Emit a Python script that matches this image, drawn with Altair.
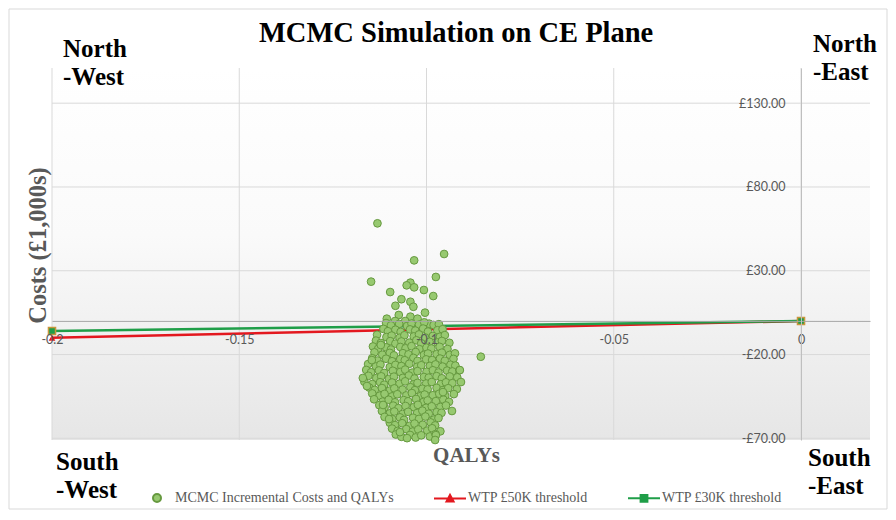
import altair as alt
import pandas as pd

# ---------------- data ----------------
series_names = ["MCMC Incremental Costs and QALYs", "WTP £50K threshold", "WTP £30K threshold"]

# scattered simulations above the main cloud
qaly_upper = [-0.1131, -0.0953, -0.1033, -0.1148, -0.0975, -0.1043, -0.1053, -0.1033, -0.1097, -0.1007,
              -0.0982, -0.1067, -0.1043, -0.1035, -0.1083, -0.1004, -0.1106, -0.1074, -0.1043, -0.1024,
              -0.1057, -0.1084, -0.0993, -0.1013]
cost_upper = [58.3, 40.0, 36.2, 23.5, 26.3, 22.9, 21.3, 20.1, 17.3, 18.5,
              14.9, 13.0, 11.5, 8.5, 9.1, 5.0, 1.4, 3.6, 2.6, 1.4,
              0.0, 0.0, -1.6, -1.8]

# main cloud
qaly_body = [
    -0.1108, -0.1095, -0.1073, -0.1052, -0.1040, -0.1020, -0.1006, -0.0981, -0.0967,
    -0.1115, -0.1103, -0.1083, -0.1069, -0.1044, -0.1030, -0.1009, -0.0996, -0.0971, -0.0957,
    -0.1132, -0.1107, -0.1093, -0.1072, -0.1059, -0.1034, -0.1020, -0.1004, -0.0983, -0.0964, -0.0951,
    -0.1135, -0.1122, -0.1097, -0.1083, -0.1067, -0.1046, -0.1027, -0.1014, -0.0992, -0.0971, -0.0959, -0.0939,
    -0.1143, -0.1129, -0.1108, -0.1095, -0.1070, -0.1056, -0.1040, -0.1019, -0.1000, -0.0987, -0.0965, -0.0944,
    -0.1139, -0.1118, -0.1098, -0.1087, -0.1063, -0.1048, -0.1029, -0.1007, -0.0996, -0.0973, -0.0959, -0.0938, -0.0924,
    -0.1145, -0.1131, -0.1108, -0.1092, -0.1070, -0.1058, -0.1035, -0.1024, -0.1001, -0.0985, -0.0964, -0.0951, -0.0928,
    -0.1156, -0.1135, -0.1123, -0.1098, -0.1083, -0.1067, -0.1046, -0.1025, -0.1014, -0.0991, -0.0976, -0.0957, -0.0936, -0.0923,
    -0.1161, -0.1148, -0.1127, -0.1113, -0.1090, -0.1070, -0.1057, -0.1038, -0.1024, -0.1000, -0.0983, -0.0968, -0.0945, -0.0931, -0.0912,
    -0.1155, -0.1134, -0.1121, -0.1100, -0.1087, -0.1063, -0.1047, -0.1032, -0.1007, -0.0994, -0.0973, -0.0959, -0.0938, -0.0918,
    -0.1166, -0.1145, -0.1124, -0.1113, -0.1092, -0.1072, -0.1057, -0.1035, -0.1024, -0.1001, -0.0986, -0.0962, -0.0948, -0.0931,
    -0.1153, -0.1138, -0.1119, -0.1098, -0.1086, -0.1064, -0.1043, -0.1031, -0.1011, -0.0997, -0.0973, -0.0956, -0.0942, -0.0919,
    -0.1145, -0.1125, -0.1112, -0.1092, -0.1078, -0.1054, -0.1039, -0.1016, -0.1005, -0.0983, -0.0966, -0.0950, -0.0927,
    -0.1140, -0.1117, -0.1101, -0.1084, -0.1061, -0.1049, -0.1028, -0.1008, -0.0997, -0.0975, -0.0955, -0.0940,
    -0.1126, -0.1112, -0.1089, -0.1075, -0.1056, -0.1034, -0.1023, -0.1001, -0.0986, -0.0963, -0.0948,
    -0.1119, -0.1098, -0.1086, -0.1064, -0.1049, -0.1025, -0.1011, -0.0994, -0.0973, -0.0960,
    -0.1112, -0.1091, -0.1071, -0.1060, -0.1036, -0.1020, -0.1003, -0.0980, -0.0968,
    -0.1098, -0.1084, -0.1065, -0.1045, -0.1032, -0.1010, -0.0989, -0.0977,
    -0.1092, -0.1077, -0.1054, -0.1037, -0.1022, -0.0998, -0.0985, -0.0963,
    -0.1082, -0.1067, -0.1044, -0.1029, -0.1014, -0.0991, -0.0976,
]
cost_body = [
    -1.2, -2.6, -1.7, -3.0, -1.5, -2.2, -0.8, -2.4, -1.9,
    -4.7, -6.1, -5.2, -6.5, -5.0, -5.7, -4.5, -6.3, -5.5, -4.9,
    -8.2, -9.6, -8.7, -10.0, -8.5, -9.2, -8.0, -9.8, -8.9, -9.4, -8.4,
    -11.7, -13.1, -12.0, -13.5, -12.2, -12.9, -11.5, -13.3, -12.4, -12.8, -11.9, -13.0,
    -15.2, -16.6, -15.7, -17.0, -15.5, -16.3, -15.0, -16.8, -15.9, -16.4, -15.4, -16.7,
    -18.7, -20.1, -19.0, -20.5, -19.2, -19.9, -18.5, -20.3, -19.4, -19.8, -18.9, -20.2, -19.3,
    -22.2, -23.6, -22.5, -24.0, -22.7, -23.4, -22.0, -23.8, -22.9, -23.3, -22.4, -23.7, -22.6,
    -25.7, -27.1, -26.0, -27.5, -26.2, -26.9, -25.5, -27.3, -26.4, -26.8, -25.9, -27.2, -26.1, -26.6,
    -29.2, -30.6, -29.5, -31.0, -29.7, -30.4, -29.0, -30.8, -29.9, -30.3, -29.4, -30.7, -29.6, -30.1, -29.3,
    -32.7, -34.1, -33.0, -34.5, -33.2, -33.9, -32.5, -34.3, -33.4, -33.8, -32.9, -34.2, -33.1, -33.6,
    -36.2, -37.6, -36.5, -38.0, -36.7, -37.4, -36.0, -37.8, -36.9, -37.3, -36.4, -37.7, -36.6, -37.1,
    -39.7, -41.1, -40.0, -41.5, -40.2, -40.9, -39.5, -41.3, -40.4, -40.8, -39.9, -41.2, -40.1, -40.6,
    -43.2, -44.6, -43.5, -45.0, -43.7, -44.4, -43.0, -44.8, -43.9, -44.3, -43.4, -44.7, -43.6,
    -46.7, -48.1, -47.0, -48.5, -47.2, -47.9, -46.5, -48.3, -47.4, -47.8, -46.9, -48.2,
    -50.2, -51.6, -50.5, -52.0, -50.7, -51.4, -50.0, -51.8, -50.9, -51.3, -50.4,
    -53.7, -55.1, -54.0, -55.5, -54.2, -54.9, -53.5, -55.3, -54.4, -54.8,
    -57.2, -58.6, -57.5, -59.0, -57.7, -58.4, -57.0, -58.8, -57.9,
    -60.7, -62.1, -61.0, -62.5, -61.2, -61.9, -60.5, -62.3,
    -64.2, -65.6, -64.5, -66.0, -64.7, -65.4, -64.0, -65.8,
    -67.7, -69.1, -68.0, -69.5, -68.2, -68.9, -67.5,
]

# loose simulations on the edge of the cloud
qaly_edge = [-0.0855, -0.0911, -0.0908, -0.0956, -0.0932, -0.0975, -0.0977, -0.1052,
             -0.1071, -0.1100, -0.1116, -0.1159, -0.1146, -0.1122, -0.1170]
cost_edge = [-21.3, -29.3, -36.4, -42.4, -53.7, -68.1, -71.0, -69.9,
             -66.3, -58.5, -50.1, -38.8, -23.3, -14.3, -34.0]

# willingness-to-pay threshold lines
wtp_qaly = [-0.2, 0.0]
wtp50_cost = [-10.0, 0.0]
wtp30_cost = [-6.0, 0.0]

# axes
x_ticks = [-0.2, -0.15, -0.1, -0.05, 0]
y_ticks = [-70, -20, 30, 80, 130]
x_domain = [-0.2, 0.01842]
y_domain = [-71, 151]

# annotations
chart_title = ["MCMC Simulation on CE Plane"]
title_qaly = [-0.0921]
title_cost = [166.5]
quad_labels = ["North\n-West", "North\n-East", "South\n-West", "South\n-East"]
quad_qaly = [-0.19706, 0.00320, -0.19893, 0.00187]
quad_cost = [157.6, 160.6, -89.0, -86.5]

# ---------------- styling ----------------
W, H = 818, 372
PT_FILL = "#97c970"
PT_STROKE = "#66993f"
RED = "#e3181f"
GREEN = "#1f9e48"
GRID = "#d9d9d9"
GREY_TXT = "#595959"

xscale = alt.Scale(domain=x_domain, nice=False, zero=False)
yscale = alt.Scale(domain=y_domain, nice=False, zero=False)

xaxis = alt.Axis(
    values=x_ticks, labelExpr="'' + datum.value", grid=False, ticks=False,
    domainColor="#a6a6a6", domainWidth=1, offset=-119.1, labelPadding=13,
    labelFont="Lato", labelFontSize=12.5, labelColor=GREY_TXT,
    labelFlush=False, labelOverlap=False,
    title="QALYs", titleFont="Liberation Serif", titleFontSize=21, titleFontWeight="bold",
    titleColor=GREY_TXT, titleX=414, titleY=141, titleAlign="center", titleBaseline="alphabetic",
    zindex=1,
)
yaxis = alt.Axis(
    values=y_ticks,
    labelExpr="(datum.value < 0 ? '-£' : '£') + format(abs(datum.value), '.2f')",
    grid=False, ticks=False, orient="left",
    domainColor="#bfbfbf", domainWidth=1, offset=-749, labelPadding=16,
    labelFont="Lato", labelFontSize=12.5, labelColor=GREY_TXT,
    labelFlush=False, labelOverlap=False,
    title="Costs (£1,000s)", titleFont="Liberation Serif", titleFontSize=24.5, titleFontWeight="bold",
    titleColor=GREY_TXT, titleX=-763, titleY=177, titleAngle=270, titleAlign="center",
    titleBaseline="middle", zindex=1,
)


def X():
    return alt.X("qaly:Q", scale=xscale, axis=xaxis)


def Y():
    return alt.Y("cost:Q", scale=yscale, axis=yaxis)


scatter_df = pd.DataFrame({
    "qaly": qaly_upper + qaly_body + qaly_edge,
    "cost": cost_upper + cost_body + cost_edge,
})
scatter_df["series"] = series_names[0]

red_df = pd.DataFrame({"qaly": wtp_qaly, "cost": wtp50_cost})
green_df = pd.DataFrame({"qaly": wtp_qaly, "cost": wtp30_cost})
vgrid_df = pd.DataFrame({"qaly": x_ticks})
hgrid_df = pd.DataFrame({"cost": y_ticks})
title_df = pd.DataFrame({"qaly": title_qaly, "cost": title_cost, "label": chart_title})
quad_df = pd.DataFrame({"qaly": quad_qaly, "cost": quad_cost, "label": quad_labels})
one = pd.DataFrame({"k": [0]})

legend = alt.Legend(
    title=None, orient="none", legendX=98, legendY=423, direction="horizontal",
    labelFont="Liberation Serif", labelFontSize=14, labelColor=GREY_TXT, labelLimit=400,
    labelOffset=11, columnPadding=36, symbolSize=64, symbolStrokeWidth=2, padding=0,
)
shape_paths = [
    "circle",
    "M-4,0H4M-0.9,0.8L0,-0.9L0.9,0.8Z",
    "M-4,0H4M-0.85,-0.85H0.85V0.85H-0.85Z",
]

gradient = alt.LinearGradient(
    gradient="linear",
    stops=[alt.GradientStop(color="#ffffff", offset=0),
           alt.GradientStop(color="#fafafa", offset=0.45),
           alt.GradientStop(color="#e6e6e6", offset=1)],
    x1=0, x2=0, y1=0, y2=1,
)

bg = alt.Chart(one).mark_rect(fill=gradient).encode(
    x=alt.value(0), x2=alt.value(W), y=alt.value(0), y2=alt.value(H))

vgrid = alt.Chart(vgrid_df).mark_rule(color=GRID, strokeWidth=1).encode(x=X())
hgrid = alt.Chart(hgrid_df).mark_rule(color=GRID, strokeWidth=1).encode(y=Y())

red_line = alt.Chart(red_df).mark_line(color=RED, strokeWidth=2.5).encode(x=X(), y=Y())
green_line = alt.Chart(green_df).mark_line(color=GREEN, strokeWidth=2.5).encode(x=X(), y=Y())
red_pts = alt.Chart(red_df).mark_point(shape="triangle-up", filled=True, size=45, color=RED,
                                       opacity=1).encode(x=X(), y=Y())
green_pts = alt.Chart(green_df).mark_point(shape="square", filled=True, size=50, fill=GREEN,
                                           stroke="#c8963c", strokeWidth=1.5, opacity=1).encode(x=X(), y=Y())

scatter = alt.Chart(scatter_df).mark_point(filled=True, size=60, opacity=1, strokeWidth=1).encode(
    x=X(), y=Y(),
    fill=alt.Fill("series:N", scale=alt.Scale(domain=series_names, range=[PT_FILL, RED, GREEN]), legend=legend),
    stroke=alt.Stroke("series:N", scale=alt.Scale(domain=series_names, range=[PT_STROKE, RED, GREEN]), legend=legend),
    shape=alt.Shape("series:N", scale=alt.Scale(domain=series_names, range=shape_paths), legend=legend),
)

title_text = alt.Chart(title_df).mark_text(
    align="center", baseline="alphabetic", font="Liberation Serif", fontSize=28.5,
    fontWeight="bold", color="black").encode(x=X(), y=Y(), text="label:N")

quad_text = alt.Chart(quad_df).mark_text(
    align="left", baseline="alphabetic", font="Liberation Serif", fontSize=25,
    fontWeight="bold", color="black", lineBreak="\n", lineHeight=28).encode(x=X(), y=Y(), text="label:N")

border = alt.Chart(one).mark_rect(fillOpacity=0, stroke="#d9d9d9", strokeWidth=1).encode(
    x=alt.value(-43), x2=alt.value(835), y=alt.value(-59), y2=alt.value(441))

chart = alt.layer(
    bg, vgrid, hgrid, red_line, green_line, red_pts, green_pts, scatter, title_text, quad_text, border
).properties(
    width=W, height=H,
    autosize=alt.AutoSizeParams(type="none"),
    padding={"left": 44, "top": 60, "right": 18, "bottom": 70},
).configure_view(stroke="transparent")

chart.save("out.html", embed_options={"renderer": "svg", "actions": False})
